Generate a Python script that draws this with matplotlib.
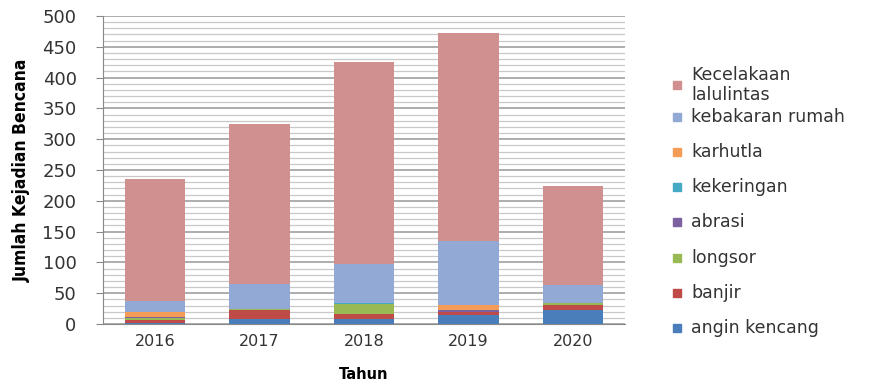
import numpy as np
import matplotlib.pyplot as plt
from matplotlib.patches import Rectangle

years = ['2016', '2017', '2018', '2019', '2020']

# stacked from bottom to top
angin_kencang = [2, 8, 8, 15, 23]
banjir = [5, 15, 8, 5, 8]
longsor = [3, 2, 17, 0, 3]
abrasi = [1, 0, 0, 3, 0]
kekeringan = [0, 0, 1, 0, 0]
karhutla = [8, 0, 0, 8, 0]
kebakaran_rumah = [18, 40, 63, 103, 29]
kecelakaan = [198, 260, 328, 338, 161]

series = [angin_kencang, banjir, longsor, abrasi, kekeringan, karhutla,
          kebakaran_rumah, kecelakaan]
labels = ['angin kencang', 'banjir', 'longsor', 'abrasi', 'kekeringan',
          'karhutla', 'kebakaran rumah', 'Kecelakaan\nlalulintas']
colors = ['#4A7EBB', '#BE4B48', '#98B954', '#7D60A0', '#46AAC5',
          '#F59D56', '#93A9D5', '#D09090']

fig = plt.figure(figsize=(8.79, 3.87), dpi=100)
ax = fig.add_axes([103/879, 1-324/387, 522/879, 308/387])

x = np.arange(len(years))
bottom = np.zeros(len(years))
for vals, lab, col in zip(series, labels, colors):
    ax.bar(x, vals, bottom=bottom, width=0.58, color=col, label=lab, zorder=3)
    bottom += np.array(vals)

ax.set_xlim(-0.5, 4.5)
ax.set_ylim(0, 500)
ax.set_yticks(np.arange(0, 501, 50))
ax.set_yticks(np.arange(0, 501, 10), minor=True)
ax.grid(axis='y', which='major', color='#A0A0A0', lw=1.2, zorder=0)
ax.grid(axis='y', which='minor', color='#C8C8C8', lw=0.9, zorder=0)
ax.set_xticks(x)
ax.set_xticklabels(years)
ax.tick_params(axis='y', which='major', length=5, color='#888888',
               labelsize=13, labelcolor='#333333', pad=14)
ax.tick_params(axis='y', which='minor', length=0)
ax.tick_params(axis='x', length=0, labelsize=11.5, labelcolor='#333333', pad=7)
for s in ['top', 'right']:
    ax.spines[s].set_visible(False)
for s in ['left', 'bottom']:
    ax.spines[s].set_color('#888888')

ax.set_ylabel('Jumlah Kejadian Bencana', fontsize=12.5, fontweight='bold',
              fontstretch='condensed', labelpad=8)
ax.set_xlabel('Tahun', fontsize=10.5, fontweight='bold', labelpad=13)

# legend drawn by hand (top entry is two lines, tighter spacing than Excel's)
W, H = 879, 387
leg_y = [85, 117, 152, 187, 222, 258, 293, 328]
for yy, lab, col in zip(leg_y, labels[::-1], colors[::-1]):
    fig.add_artist(Rectangle((673/W, 1-(yy+4)/H), 8/W, 8/H,
                             transform=fig.transFigure, color=col))
    fig.text(691/W, 1-yy/H, lab, fontsize=12.5, color='#333333',
             va='center', ha='left', linespacing=1.15)

fig.savefig('out.png', dpi=100)
